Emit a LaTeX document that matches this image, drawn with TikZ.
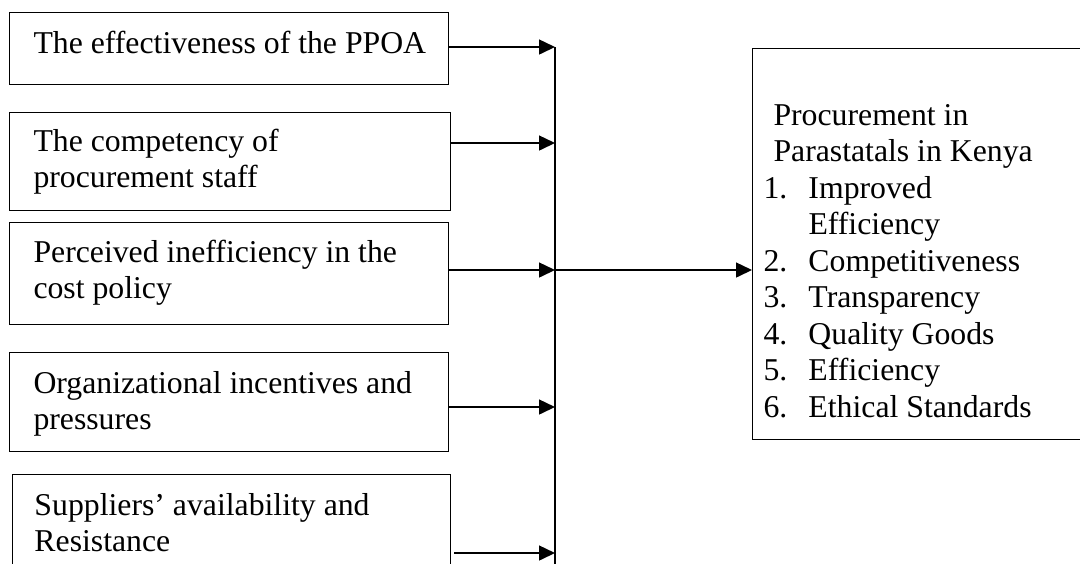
\documentclass[tikz,border=0pt]{standalone}
\usepackage{fontspec}
\setmainfont{Liberation Serif}
\usetikzlibrary{arrows.meta}
\begin{document}
\begin{tikzpicture}[x=0.4pt,y=-0.4pt,
  box/.style={draw,line width=0.55pt,inner sep=0pt,anchor=north west},
  lbl/.style={inner sep=0pt,anchor=base west,font=\fontsize{12.7pt}{14.6pt}\selectfont},
  arr/.style={line width=0.6pt,-{Triangle[length=6.4pt,width=6pt]}},
  ln/.style={line width=0.6pt}]
\useasboundingbox (0,0) rectangle (1080,563);
\clip (0,0) rectangle (1080,563);
% left boxes
\node[box,minimum width=175.6pt,minimum height=28.8pt] (b1) at (9,12) {};
\node[box,minimum width=176.4pt,minimum height=39.2pt] (b2) at (9,112) {};
\node[box,minimum width=175.6pt,minimum height=40.8pt] (b3) at (9,222) {};
\node[box,minimum width=175.6pt,minimum height=39.6pt] (b4) at (9,352) {};
\node[box,minimum width=175.2pt,minimum height=48pt] (b5) at (12,474) {};
% right box
\node[box,minimum width=144pt,minimum height=156.4pt] (rb) at (752,48) {};
% left labels
\node[lbl] (t1) at (33,53) {\begin{tabular}[t]{@{}l@{}}The effectiveness of the PPOA\end{tabular}};
\node[lbl] (t2) at (33,151) {\begin{tabular}[t]{@{}l@{}}The competency of\\procurement staff\end{tabular}};
\node[lbl] (t3) at (33,262) {\begin{tabular}[t]{@{}l@{}}Perceived inefficiency in the\\cost policy\end{tabular}};
\node[lbl] (t4) at (33,393) {\begin{tabular}[t]{@{}l@{}}Organizational incentives and\\pressures\end{tabular}};
\node[lbl] (t5) at (34,515) {\begin{tabular}[t]{@{}l@{}}Suppliers’ availability and\\Resistance\end{tabular}};
% right label
\node[lbl] (rt) at (763,125) {\begin{tabular}[t]{@{}l@{}}
\hspace{4pt}Procurement in\\
\hspace{4pt}Parastatals in Kenya\\
\makebox[18pt][l]{1.}Improved\\
\makebox[18pt][l]{}Efficiency\\
\makebox[18pt][l]{2.}Competitiveness\\
\makebox[18pt][l]{3.}Transparency\\
\makebox[18pt][l]{4.}Quality Goods\\
\makebox[18pt][l]{5.}Efficiency\\
\makebox[18pt][l]{6.}Ethical Standards
\end{tabular}};
% junctions on the collector line
\coordinate (j1) at (555,47);
\coordinate (j2) at (555,143);
\coordinate (j3) at (555,270);
\coordinate (j4) at (555,407);
\coordinate (j5) at (555,553);
\coordinate (jb) at (555,575);
\draw[ln] (j1) -- (jb);
\draw[arr] (b1.east |- j1) -- (j1);
\draw[arr] (b2.east |- j2) -- (j2);
\draw[arr] (b3.east |- j3) -- (j3);
\draw[arr] (b4.east |- j4) -- (j4);
\draw[arr] ([xshift=1.2pt]b5.east |- j5) -- (j5);
\draw[arr] (j3) -- (j3 -| rb.west);
\end{tikzpicture}
\end{document}
